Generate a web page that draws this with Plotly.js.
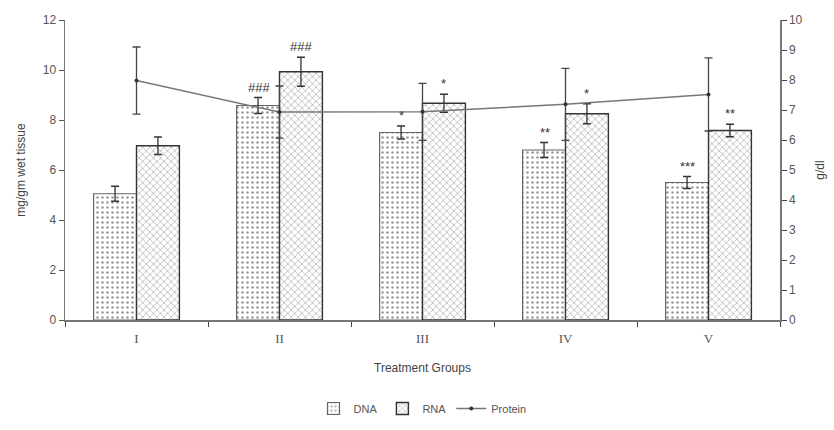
<!DOCTYPE html>
<html>
<head>
<meta charset="utf-8">
<script src="https://cdn.plot.ly/plotly-3.0.1.min.js"></script>
<style>html,body{margin:0;padding:0;background:#fff;}#chart{width:834px;height:430px;}</style>
</head>
<body>
<div id="chart"></div>
<script>
const groups = ["I", "II", "III", "IV", "V"];
const dnaValues = [5.05, 8.58, 7.5, 6.8, 5.5];
const dnaErrors = [0.3, 0.32, 0.26, 0.3, 0.24];
const rnaValues = [6.97, 9.93, 8.67, 8.25, 7.58];
const rnaErrors = [0.35, 0.58, 0.36, 0.4, 0.25];
const proteinValues = [7.98, 6.93, 6.94, 7.19, 7.52];
const proteinErrors = [1.12, 0.87, 0.95, 1.2, 1.22];
const dnaSig = ["", "###", "*", "**", "***"];
const rnaSig = ["", "###", "*", "*", "**"];

const textColor = "#555";
const fontFam = "Liberation Sans, Arial, sans-serif";

const traces = [
  {
    type: "bar", name: "DNA", x: groups, y: dnaValues,
    error_y: {type: "data", array: dnaErrors, visible: true, color: "#333", thickness: 1.3, width: 4},
    marker: {color: "white", line: {color: "#666", width: 1.2},
      pattern: {shape: ".", fgcolor: "#999", bgcolor: "white", size: 5, solidity: 0.2}},
    yaxis: "y"
  },
  {
    type: "bar", name: "RNA", x: groups, y: rnaValues,
    error_y: {type: "data", array: rnaErrors, visible: true, color: "#333", thickness: 1.3, width: 4},
    marker: {color: "white", line: {color: "#333", width: 1.4},
      pattern: {shape: "x", fgcolor: "#aaa", bgcolor: "white", size: 5, solidity: 0.25}},
    yaxis: "y"
  },
  {
    type: "scatter", mode: "lines+markers", name: "Protein", x: groups, y: proteinValues,
    error_y: {type: "data", array: proteinErrors, visible: true, color: "#444", thickness: 1.3, width: 4},
    line: {color: "#777", width: 1.5},
    marker: {color: "#333", size: 4},
    yaxis: "y2"
  }
];

const annotations = [];
groups.forEach((g, i) => {
  if (dnaSig[i]) annotations.push({
    x: g, y: dnaValues[i] + dnaErrors[i], xref: "x", yref: "y", text: dnaSig[i],
    showarrow: false, xshift: -21, yanchor: "bottom", yshift: 1,
    font: {family: fontFam, size: 13, color: "#333"}
  });
  if (rnaSig[i]) annotations.push({
    x: g, y: rnaValues[i] + rnaErrors[i], xref: "x", yref: "y", text: rnaSig[i],
    showarrow: false, xshift: 21, yanchor: "bottom", yshift: 1,
    font: {family: fontFam, size: 13, color: "#333"}
  });
});

const layout = {
  width: 834, height: 430,
  margin: {l: 65, r: 54, t: 20, b: 110, autoexpand: false},
  paper_bgcolor: "white", plot_bgcolor: "white",
  font: {family: fontFam, size: 12, color: textColor},
  barmode: "group", bargap: 0.4, bargroupgap: 0,
  showlegend: true,
  legend: {orientation: "h", x: 0.5, xanchor: "center", y: -0.295, yanchor: "middle",
    font: {size: 11, color: textColor}, tracegroupgap: 0},
  xaxis: {
    type: "category", showline: true, linecolor: "#777", linewidth: 1.5,
    ticks: "outside", tickson: "boundaries", ticklen: 5, tickcolor: "#444",
    ticklabelstandoff: 6, automargin: false,
    showgrid: false, zeroline: false,
    tickfont: {family: "Liberation Serif, Times New Roman, serif", size: 13, color: textColor},
    title: {text: "Treatment Groups", font: {size: 12, color: "#444"}, standoff: 18}
  },
  yaxis: {
    range: [0, 12], dtick: 2, showline: true, linecolor: "#777", linewidth: 1.5, automargin: false,
    ticks: "outside", ticklen: 5, tickcolor: "#555", showgrid: false, zeroline: false,
    tickfont: {size: 12, color: textColor},
    title: {text: "mg/gm wet tissue", font: {size: 12, color: "#444"}, standoff: 14}
  },
  yaxis2: {
    range: [0, 10], dtick: 1, overlaying: "y", side: "right", showline: true, automargin: false,
    linecolor: "#777", linewidth: 1.5, ticks: "outside", ticklen: 5, tickcolor: "#444",
    showgrid: false, zeroline: false, tickfont: {size: 12, color: textColor},
    title: {text: "g/dl", font: {size: 12, color: "#444"}, standoff: 14}
  },
  annotations: annotations
};

Plotly.newPlot("chart", traces, layout, {displayModeBar: false, staticPlot: true});
</script>
</body>
</html>
